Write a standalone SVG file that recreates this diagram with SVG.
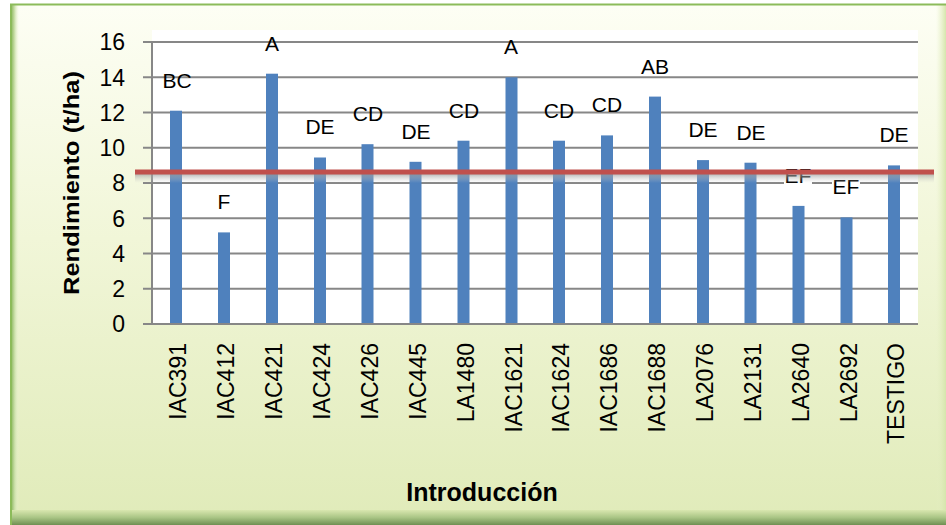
<svg xmlns="http://www.w3.org/2000/svg" width="946" height="525" viewBox="0 0 946 525">
<defs>
<linearGradient id="bg" x1="0" y1="0" x2="0" y2="1">
<stop offset="0" stop-color="#fdfef4"/>
<stop offset="0.45" stop-color="#f1f6d8"/>
<stop offset="1" stop-color="#e0ebb9"/>
</linearGradient>
<linearGradient id="bot" x1="0" y1="0" x2="0" y2="1">
<stop offset="0" stop-color="#d9e7af"/>
<stop offset="0.5" stop-color="#a9c585"/>
<stop offset="1" stop-color="#6f8f52"/>
</linearGradient>
<linearGradient id="lft" x1="0" y1="0" x2="1" y2="0">
<stop offset="0" stop-color="#8ab55e"/>
<stop offset="0.4" stop-color="#c3dba0"/>
<stop offset="1" stop-color="#eef5d6" stop-opacity="0"/>
</linearGradient>
<linearGradient id="rgt" x1="0" y1="0" x2="1" y2="0">
<stop offset="0" stop-color="#e6efc6" stop-opacity="0"/>
<stop offset="1" stop-color="#d5e5ab"/>
</linearGradient>
<linearGradient id="shd" x1="0" y1="0" x2="0" y2="1">
<stop offset="0" stop-color="#9a9a9a" stop-opacity="0.7"/>
<stop offset="1" stop-color="#cfcfcf" stop-opacity="0"/>
</linearGradient>
<style>
.bar{fill:#4f81bd}
.grid{stroke:#878787;stroke-width:2}
.ytk{font-family:"Liberation Sans",Arial,sans-serif;font-size:23px;fill:#000;text-anchor:end}
.xtk{font-family:"Liberation Sans",Arial,sans-serif;font-size:23px;fill:#000;text-anchor:end}
.lbl{font-family:"Liberation Sans",Arial,sans-serif;font-size:21px;fill:#000;text-anchor:middle}
.ttl{font-family:"Liberation Sans",Arial,sans-serif;font-size:24px;font-weight:bold;fill:#000;text-anchor:middle}
</style>
</defs>
<g id="frame">
<rect x="11" y="5" width="935" height="520" fill="url(#bg)"/>
<rect x="11" y="5" width="8" height="520" fill="url(#lft)"/>
<rect x="936" y="5" width="10" height="520" fill="url(#rgt)"/>
<rect x="11" y="510" width="935" height="15" fill="url(#bot)"/>
<line x1="10" y1="4.5" x2="946" y2="4.5" stroke="#8cbb5a" stroke-width="2"/>
<line x1="11" y1="4" x2="11" y2="525" stroke="#8cbb5a" stroke-width="2"/>
</g>
<g id="plot">
<rect x="152" y="30" width="766" height="294" fill="#ffffff"/>
<g id="gridlines">
<line class="grid" x1="143" y1="42" x2="918" y2="42"/>
<line class="grid" x1="143" y1="77.25" x2="918" y2="77.25"/>
<line class="grid" x1="143" y1="112.5" x2="918" y2="112.5"/>
<line class="grid" x1="143" y1="147.75" x2="918" y2="147.75"/>
<line class="grid" x1="143" y1="183" x2="918" y2="183"/>
<line class="grid" x1="143" y1="218.25" x2="918" y2="218.25"/>
<line class="grid" x1="143" y1="253.5" x2="918" y2="253.5"/>
<line class="grid" x1="143" y1="288.75" x2="918" y2="288.75"/>
<line class="grid" x1="152" y1="42" x2="152" y2="324"/>
</g>
<g id="yticks">
<text class="ytk" x="125" y="50">16</text>
<text class="ytk" x="125" y="85.5">14</text>
<text class="ytk" x="125" y="120.5">12</text>
<text class="ytk" x="125" y="156">10</text>
<text class="ytk" x="125" y="191">8</text>
<text class="ytk" x="125" y="226.5">6</text>
<text class="ytk" x="125" y="261.5">4</text>
<text class="ytk" x="125" y="297">2</text>
<text class="ytk" x="125" y="332">0</text>
</g>
<g id="bars">
<rect class="bar" x="170" y="110.7" width="12" height="213.3"/>
<rect class="bar" x="218" y="232.4" width="12" height="91.6"/>
<rect class="bar" x="266" y="73.7" width="12" height="250.3"/>
<rect class="bar" x="314" y="157.5" width="12" height="166.5"/>
<rect class="bar" x="361.5" y="144.2" width="12" height="179.8"/>
<rect class="bar" x="409.5" y="161.8" width="12" height="162.2"/>
<rect class="bar" x="457.5" y="140.7" width="12" height="183.3"/>
<rect class="bar" x="505.5" y="77.3" width="12" height="246.7"/>
<rect class="bar" x="553" y="140.7" width="12" height="183.3"/>
<rect class="bar" x="601" y="135.4" width="12" height="188.6"/>
<rect class="bar" x="649" y="96.6" width="12" height="227.4"/>
<rect class="bar" x="697" y="160.1" width="12" height="163.9"/>
<rect class="bar" x="744.5" y="162.7" width="12" height="161.3"/>
<rect class="bar" x="792.5" y="205.9" width="12" height="118.1"/>
<rect class="bar" x="840.5" y="217.4" width="12" height="106.6"/>
<rect class="bar" x="888" y="165.4" width="12" height="158.6"/>
</g>
<line class="grid" x1="143" y1="324" x2="918" y2="324"/>
<g id="labels">
<text class="lbl" x="177" y="88">BC</text>
<text class="lbl" x="224" y="209">F</text>
<text class="lbl" x="272" y="51">A</text>
<text class="lbl" x="320" y="134">DE</text>
<text class="lbl" x="368" y="121">CD</text>
<text class="lbl" x="416" y="139">DE</text>
<text class="lbl" x="464" y="118">CD</text>
<text class="lbl" x="511" y="54">A</text>
<text class="lbl" x="559" y="118">CD</text>
<text class="lbl" x="607" y="112">CD</text>
<text class="lbl" x="655" y="74">AB</text>
<text class="lbl" x="703" y="137">DE</text>
<text class="lbl" x="751" y="140">DE</text>
<rect x="784" y="166" width="28" height="18" fill="#ffffff"/>
<text class="lbl" x="798" y="183">EF</text>
<rect x="832" y="177" width="28" height="18" fill="#ffffff"/>
<text class="lbl" x="846" y="194">EF</text>
<text class="lbl" x="894" y="142">DE</text>
</g>
<g id="redline">
<rect x="135" y="174" width="799" height="9" fill="url(#shd)"/>
<line x1="135" y1="172" x2="934" y2="172" stroke="#c0504d" stroke-width="5"/>
</g>
</g>
<g id="xticks">
<text class="xtk" transform="translate(186,343) rotate(-90)">IAC391</text>
<text class="xtk" transform="translate(234,343) rotate(-90)">IAC412</text>
<text class="xtk" transform="translate(282,343) rotate(-90)">IAC421</text>
<text class="xtk" transform="translate(330,343) rotate(-90)">IAC424</text>
<text class="xtk" transform="translate(377.5,343) rotate(-90)">IAC426</text>
<text class="xtk" transform="translate(425.5,343) rotate(-90)">IAC445</text>
<text class="xtk" transform="translate(473.5,343) rotate(-90)">LA1480</text>
<text class="xtk" transform="translate(521.5,343) rotate(-90)">IAC1621</text>
<text class="xtk" transform="translate(569,343) rotate(-90)">IAC1624</text>
<text class="xtk" transform="translate(617,343) rotate(-90)">IAC1686</text>
<text class="xtk" transform="translate(665,343) rotate(-90)">IAC1688</text>
<text class="xtk" transform="translate(713,343) rotate(-90)">LA2076</text>
<text class="xtk" transform="translate(760.5,343) rotate(-90)">LA2131</text>
<text class="xtk" transform="translate(808.5,343) rotate(-90)">LA2640</text>
<text class="xtk" transform="translate(856.5,343) rotate(-90)">LA2692</text>
<text class="xtk" transform="translate(904,343) rotate(-90)">TESTIGO</text>
</g>
<g id="titles">
<text class="ttl" transform="translate(79,183) rotate(-90)" style="font-size:22px" textLength="224" lengthAdjust="spacingAndGlyphs">Rendimiento (t/ha)</text>
<text class="ttl" x="482" y="501" style="font-size:25px">Introducción</text>
</g>
</svg>
